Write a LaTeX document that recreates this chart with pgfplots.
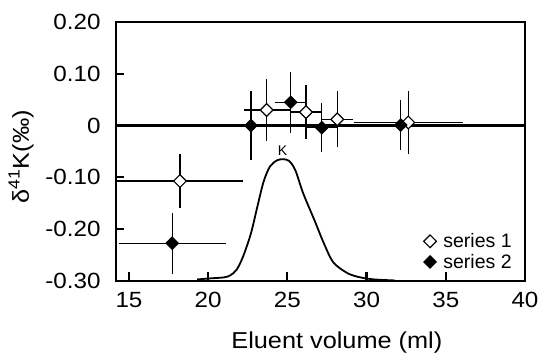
\documentclass[border=0pt]{standalone}
\usepackage{pgfplots}
\pgfplotsset{compat=1.18}
\usepackage{pgfplotstable}
\usepackage{fontspec}
\setmainfont{Liberation Sans}
\newfontfamily\widefont{Liberation Sans}[FakeStretch=1.1]
\pgfplotstableread{
x y ex ey
18.22 -0.107 4.0 0.052
23.69 0.030 1.45 0.060
26.17 0.026 1.0 0.052
28.15 0.012 1.0 0.054
32.63 0.006 3.43 0.061
}\seriesone
\pgfplotstableread{
x y ex ey
17.73 -0.227 3.39 0.059
22.70 0.000 1.0 0.066
25.21 0.045 0.98 0.059
27.17 -0.004 1.0 0.047
32.15 0.001 3.4 0.048
}\seriestwo
\begin{document}
\begin{tikzpicture}
\begin{axis}[
  name=ax,
  scale only axis,
  width=409pt, height=259pt,
  xmin=14.18, xmax=40, ymin=-0.3, ymax=0.2,
  xtick={15,20,25,30,35,40},
  xticklabels={15,20,25,30,35,40},
  ytick={-0.3,-0.2,-0.1,0,0.1,0.2},
  yticklabels={-0.30,-0.20,-0.10,0,0.10,0.20},
  tick pos=left,
  tick align=inside,
  major tick length=8.5pt,
  every tick/.style={black, line width=2.2pt},
  axis line style={line width=2.6pt},
  tick label style={font=\widefont\fontsize{22}{26}\selectfont},
  xticklabel style={yshift=-8pt},
  yticklabel style={xshift=-12pt},
  label style={font=\widefont\fontsize{23}{27}\selectfont},
  xlabel={Eluent volume (ml)},
  ylabel={δ\textsuperscript{41}K(‰)},
  xlabel style={at={(rel axis cs:0.54,0)}, anchor=north, yshift=-47pt},
  ylabel style={at={(rel axis cs:-0.193,0.48)}, anchor=south},
  legend style={draw=none, fill=none, at={(rel axis cs:0.985,0.035)}, anchor=south east,
    font=\fontsize{19.5}{23}\selectfont, inner sep=0pt, row sep=1pt, nodes={inner xsep=7pt}},
  legend cell align=left,
]
% zero line
\addplot[black, line width=2.6pt, forget plot] coordinates {(14.18,0) (40,0)};
% elution curve
\addplot[black, line width=1.8pt, smooth, no marks, forget plot] coordinates {
(19.3,-0.297) (20.1,-0.295) (21.0,-0.293) (21.4,-0.289) (21.8,-0.278) (22.2,-0.253)
(22.7,-0.208) (23.1,-0.157) (23.5,-0.108) (23.9,-0.079) (24.35,-0.067) (24.73,-0.065)
(25.1,-0.068) (25.5,-0.086) (26.0,-0.131) (26.7,-0.182) (27.3,-0.227) (27.9,-0.264)
(28.8,-0.285) (29.6,-0.293) (30.5,-0.297) (31.8,-0.299)};
\node[font=\fontsize{14}{16}\selectfont] at (axis cs:24.7,-0.049) {K};
% error bars (drawn first, below the markers)
\addplot[draw=none, mark=none, forget plot,
  error bars/.cd, x dir=both, x explicit, y dir=both, y explicit,
  error bar style={line width=1.3pt, black, draw=black}, error mark=none]
  table[x=x, y=y, x error=ex, y error=ey] {\seriesone};
\addplot[draw=none, mark=none, forget plot,
  error bars/.cd, x dir=both, x explicit, y dir=both, y explicit,
  error bar style={line width=1.3pt, black, draw=black}, error mark=none]
  table[x=x, y=y, x error=ex, y error=ey] {\seriestwo};
% series 1
\addplot[black, only marks, mark=square*, mark size=4.5pt,
  mark options={rotate=45, fill=white, draw=black, line width=1.2pt}]
  table[x=x, y=y] {\seriesone};
\addlegendentry{series 1}
% series 2
\addplot[black, only marks, mark=square*, mark size=4.3pt,
  mark options={rotate=45, fill=black, draw=black, line width=1.2pt}]
  table[x=x, y=y] {\seriestwo};
\addlegendentry{series 2}
\end{axis}
\pgfresetboundingbox
\path[use as bounding box] ([shift={(-116pt,-74pt)}]ax.south west) rectangle ([shift={(426pt,281pt)}]ax.south west);
\end{tikzpicture}
\end{document}
